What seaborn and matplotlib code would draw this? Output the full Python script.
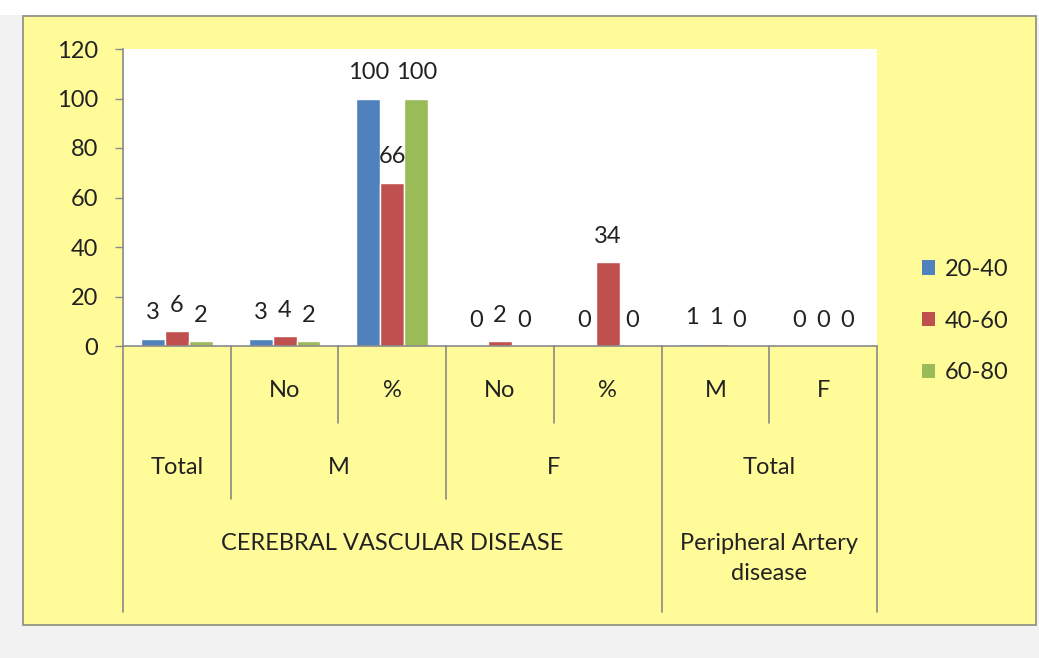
import numpy as np
import pandas as pd
import matplotlib
matplotlib.use("Agg")
import matplotlib.pyplot as plt
from matplotlib.patches import Rectangle, Patch
import seaborn as sns

# chart data
cat_keys = ["cvd_total", "cvd_m_no", "cvd_m_pct", "cvd_f_no", "cvd_f_pct", "pad_m", "pad_f"]
age_groups = ["20-40", "40-60", "60-80"]
vals_20_40 = [3, 3, 100, 0, 0, 1, 0]
vals_40_60 = [6, 4, 66, 2, 34, 1, 0]
vals_60_80 = [2, 2, 100, 0, 0, 0, 0]

# hierarchical category labels
level1 = ["", "No", "%", "No", "%", "M", "F"]
level2 = [("Total", 0, 0), ("M", 1, 2), ("F", 3, 4), ("Total", 5, 6)]
level3 = [("CEREBRAL VASCULAR DISEASE", 0, 4), ("Peripheral Artery\ndisease", 5, 6)]

colors = {"20-40": "#4F81BD", "40-60": "#C0504D", "60-80": "#9BBB59"}

df = pd.DataFrame({
    "cat": cat_keys * 3,
    "age": np.repeat(age_groups, len(cat_keys)),
    "value": vals_20_40 + vals_40_60 + vals_60_80,
})

sns.set_style("white")
plt.rcParams["font.family"] = ["Lato", "DejaVu Sans"]
FS = 17
TXT = "#222222"
LINE = "#8a8a8a"

W, H = 1039, 658
fig = plt.figure(figsize=(W / 100, H / 100), dpi=100, facecolor="white")

# background panels
fig.patches.append(Rectangle((0, 0), 1, 1 - 15 / H, transform=fig.transFigure,
                             facecolor="#F2F2F2", edgecolor="none", zorder=-3))
fig.patches.append(Rectangle((23 / W, 1 - 625 / H), (1036 - 23) / W, (625 - 16) / H,
                             transform=fig.transFigure, facecolor="#FFFB99",
                             edgecolor="#8c8c80", linewidth=1.2, zorder=-2))

x0, x1, ytop, ybase = 123, 877, 49, 346
ax = fig.add_axes([x0 / W, 1 - ybase / H, (x1 - x0) / W, (ybase - ytop) / H])
ax.set_facecolor("white")

sns.barplot(data=df, x="cat", y="value", hue="age", order=cat_keys,
            hue_order=age_groups, palette=colors, width=2 / 3, gap=0,
            saturation=1, legend=False, ax=ax)

for cont in ax.containers:
    ax.bar_label(cont, fmt="%g", padding=11, fontsize=FS, color=TXT)

ax.set_ylim(0, 120)
ax.set_xlim(-0.5, len(cat_keys) - 0.5)
ax.set_yticks(range(0, 121, 20))
ax.tick_params(axis="y", direction="out", length=6, width=1, color=LINE,
               labelsize=FS, labelcolor=TXT, pad=12, left=True)
ax.set_xticks([])
ax.set_xlabel("")
ax.set_ylabel("")
for s in ["top", "right"]:
    ax.spines[s].set_visible(False)
for s in ["left", "bottom"]:
    ax.spines[s].set_color(LINE)
    ax.spines[s].set_linewidth(1.2)

# multi-level category axis
ph = ybase - ytop
def yfrac(py):
    return (ybase - py) / ph

tr = ax.get_xaxis_transform()
bounds = {-0.5: 612, 0.5: 499, 1.5: 423, 2.5: 499, 3.5: 423, 4.5: 612, 5.5: 423, 6.5: 612}
for bx, bottom in bounds.items():
    ax.plot([bx, bx], [0, yfrac(bottom)], transform=tr, color=LINE, lw=1.2,
            clip_on=False)

for i, lab in enumerate(level1):
    if lab:
        ax.text(i, yfrac(390), lab, transform=tr, ha="center", va="center",
                fontsize=FS, color=TXT)
for lab, a, b in level2:
    ax.text((a + b) / 2, yfrac(467), lab, transform=tr, ha="center", va="center",
            fontsize=FS, color=TXT)
for lab, a, b in level3:
    ax.text((a + b) / 2, yfrac(533), lab, transform=tr, ha="center", va="top",
            fontsize=FS, color=TXT, linespacing=1.55)

handles = [Patch(facecolor=colors[g], edgecolor="none", label=g) for g in age_groups]
fig.legend(handles=handles, loc="center left", bbox_to_anchor=(901 / W, 1 - 321 / H),
           frameon=False, fontsize=FS, handlelength=0.55, handleheight=0.55,
           handletextpad=0.4, labelspacing=1.3, labelcolor=TXT)

fig.savefig("out.png", dpi=100, facecolor=fig.get_facecolor())
